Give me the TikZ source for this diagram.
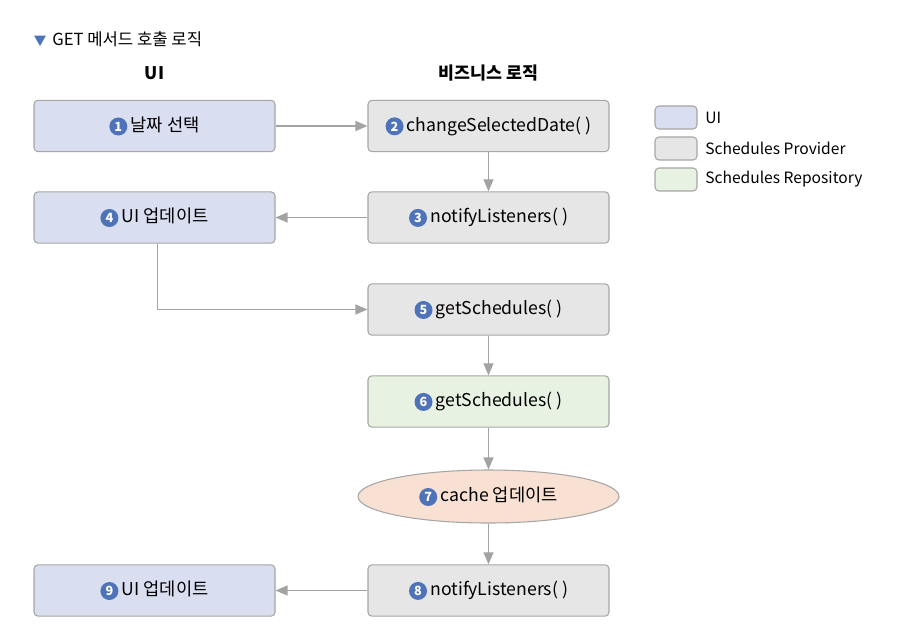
\documentclass[tikz,border=0pt]{standalone}
\usepackage{fontspec}
\setmainfont{Noto Sans CJK KR}
\usetikzlibrary{arrows.meta,shapes.geometric}
\definecolor{uifill}{HTML}{D9DEF0}
\definecolor{provfill}{HTML}{E6E6E6}
\definecolor{repofill}{HTML}{E8F2E2}
\definecolor{cachefill}{HTML}{F8E1D3}
\definecolor{edge}{HTML}{A6A6A6}
\definecolor{arrowc}{HTML}{A3A3A3}
\definecolor{numblue}{HTML}{4E73B9}
\newcommand\numc[1]{\tikz[baseline=(c.base)]\node[circle,fill=numblue,text=white,inner sep=0pt,minimum size=13.5pt,font=\bfseries\fontsize{9.5}{9.5}\selectfont](c){#1};\hspace{2.5pt}}
\tikzset{
  stepbox/.style={draw=edge,line width=0.8pt,rounded corners=3pt,minimum width=180.75pt,minimum height=38.5pt,inner sep=0pt,font=\fontsize{13.25}{15}\selectfont},
  uibox/.style={stepbox,fill=uifill},
  provbox/.style={stepbox,fill=provfill},
  repobox/.style={stepbox,fill=repofill},
  cachebox/.style={ellipse,draw=edge,line width=0.8pt,fill=cachefill,minimum width=195.75pt,minimum height=39.75pt,inner sep=0pt,font=\fontsize{13.25}{15}\selectfont},
  legbox/.style={draw=edge,line width=0.8pt,rounded corners=3pt,minimum width=31.5pt,minimum height=17.25pt,inner sep=0pt},
  legtext/.style={anchor=west,inner sep=0pt,font=\fontsize{11.7}{13}\selectfont},
  head/.style={font=\bfseries\fontsize{13}{15}\selectfont},
  conn/.style={draw=arrowc,line width=1pt,-{Triangle[length=9pt,width=7.5pt]}}
}
\begin{document}
\begin{tikzpicture}[x=0.75pt,y=-0.75pt]
\useasboundingbox (0,0) rectangle (905,640);
% title
\node[fill=numblue,isosceles triangle,isosceles triangle apex angle=60,shape border rotate=-90,inner sep=0pt,minimum width=9pt,minimum height=7pt] (tri) at (40,39) {};
\node[anchor=west,inner sep=0pt,font=\fontsize{12.5}{14}\selectfont] (title) at (52,39) {GET 메서드 호출 로직};
% headings
\node[head] (hui) at (154.5,73) {UI};
\node[head] (hbiz) at (488.5,73) {비즈니스 로직};
% boxes
\node[uibox] (n1) at (154.5,126) {\numc{1}날짜 선택};
\node[provbox] (n2) at (488.5,126) {\numc{2}changeSelectedDate( )};
\node[provbox] (n3) at (488.5,217.5) {\numc{3}notifyListeners( )};
\node[uibox] (n4) at (154.5,217.5) {\numc{4}UI 업데이트};
\node[provbox] (n5) at (488.5,309.5) {\numc{5}getSchedules( )};
\node[repobox] (n6) at (488.5,401.5) {\numc{6}getSchedules( )};
\node[cachebox] (n7) at (488.5,496.5) {\numc{7}cache 업데이트};
\node[provbox] (n8) at (488.5,590.5) {\numc{8}notifyListeners( )};
\node[uibox] (n9) at (154.5,590.5) {\numc{9}UI 업데이트};
% legend
\node[legbox,fill=uifill] (l1) at (676,117.5) {};
\node[legbox,fill=provfill] (l2) at (676,148.5) {};
\node[legbox,fill=repofill] (l3) at (676,179.5) {};
\node[legtext] (t1) at (705,117.5) {UI};
\node[legtext] (t2) at (705,148.5) {Schedules Provider};
\node[legtext] (t3) at (705,179.5) {Schedules Repository};
% connectors
\draw[conn] (n1) -- (n2);
\draw[conn] (n2) -- (n3);
\draw[conn] (n3) -- (n4);
\coordinate (c45) at (157.5,309.5);
\draw[conn] (n4.south -| c45) -- (c45) -- (n5.west);
\draw[conn] (n5) -- (n6);
\draw[conn] (n6) -- (n7);
\draw[conn] (n7) -- (n8);
\draw[conn] (n8) -- (n9);
\end{tikzpicture}
\end{document}
